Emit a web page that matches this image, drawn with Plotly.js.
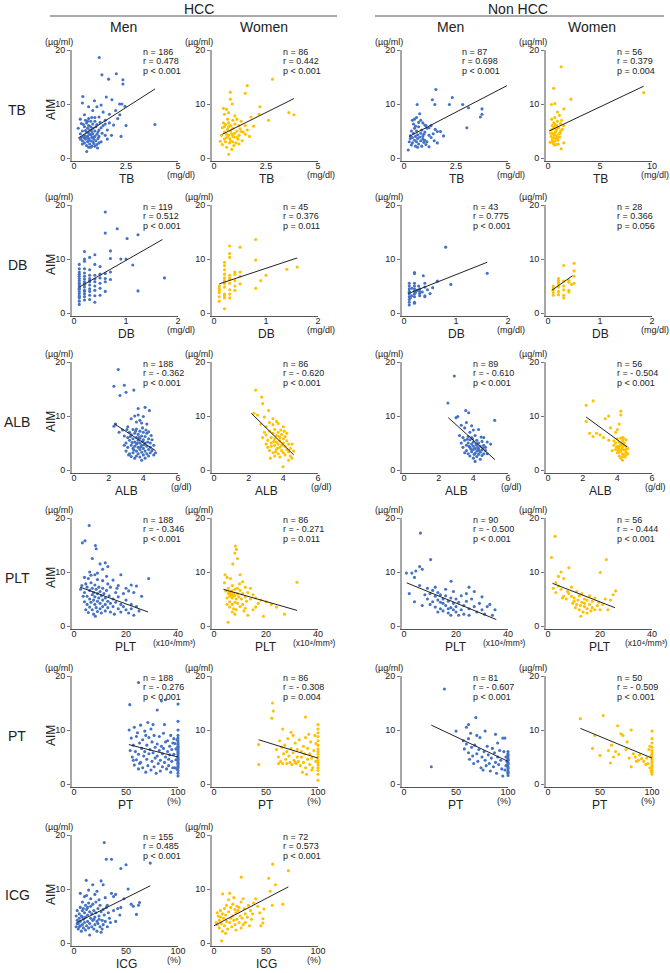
<!DOCTYPE html>
<html><head><meta charset="utf-8">
<script src="https://cdn.plot.ly/plotly-3.0.1.min.js"></script>
<style>html,body{margin:0;padding:0;background:#fff}#chart{width:670px;height:973px}</style>
</head><body><div id="chart"></div>
<script>
// ---------- DATA ----------
const rowNames = ['TB','DB','ALB','PLT','PT','ICG'];
const rowUnits = ['(mg/dl)','(mg/dl)','(g/dl)','(x10\u2074/mm\u00b3)','(%)','(%)'];
const rowTicks = [[0,2.5,5],[0,1,2],[0,2,4,6],[0,20,40],[0,50,100],[0,50,100]];
const tbWideTicks = [0,5,10];
const yTicks = [0,10,20];
const groupHeads = ['HCC','Non HCC'];
const sexHeads = ['Men','Women','Men','Women'];

// TB
const tbHccMen = [[1.21,18.6],[1.34,15.4],[1.66,14.6],[2.03,15.6],[2.35,14.5],[2.35,13.7],[3.89,6.2],[0.42,11.4],[0.98,10.6],[1.55,11.3],[1.82,10.8],[2.19,10.0],[2.3,10.0],[2.45,9.6],[2.0,8.8],[1.3,9.8],[1.1,9.5],[0.7,9.5],[0.4,10.2],[0.9,8.8],[1.4,8.5],[1.7,8.1],[2.2,8.0],[2.5,6.0],[2.26,4.0],[1.13,1.85],[0.61,1.2],[1.9,6.1],[1.5,6.3],[2.1,7.3],[1.6,5.2],[1.2,7.6],[0.3,7.2],[0.5,8.0],[0.2,5.5],[0.3,4.5],[0.35,3.8],[0.4,3.2],[0.4,5.0],[0.45,6.2],[0.5,2.8],[0.5,4.2],[0.5,5.8],[0.55,3.5],[0.55,7.0],[0.6,2.3],[0.6,4.8],[0.6,6.5],[0.65,3.0],[0.65,4.0],[0.65,5.5],[0.7,2.0],[0.7,3.6],[0.7,4.6],[0.7,6.0],[0.7,7.3],[0.75,2.6],[0.75,5.2],[0.8,3.2],[0.8,4.3],[0.8,5.8],[0.8,6.8],[0.85,2.2],[0.85,3.8],[0.85,4.9],[0.9,3.0],[0.9,4.5],[0.9,5.5],[0.9,6.3],[0.95,2.7],[0.95,3.5],[1.0,4.0],[1.0,5.0],[1.0,6.8],[1.05,3.2],[1.05,5.8],[1.1,2.5],[1.1,4.4],[1.1,6.2],[1.15,3.6],[1.2,5.2],[1.2,4.0],[1.25,6.6],[1.3,3.0],[1.3,5.6],[1.35,4.6],[1.4,6.0],[1.5,4.2],[1.5,7.0],[0.45,4.0],[0.6,3.9],[0.75,4.4],[0.55,5.1],[0.65,6.8],[0.85,7.5],[0.4,2.6],[0.3,3.5],[0.5,3.7],[1.0,2.2],[1.2,2.8],[1.6,3.5],[1.8,4.2],[1.7,6.5],[1.0,7.5],[0.8,2.0],[0.35,6.4],[0.7,3.3],[0.9,3.9],[1.15,4.8]];
const tbHccMenFit = [[0.2,3.7],[3.9,12.8]];
const tbHccMenStats = ['n = 186','r = 0.478','p < 0.001'];

const tbHccWomen = [[2.81,14.6],[1.59,13.4],[1.5,12.0],[0.78,12.2],[0.78,10.9],[0.87,10.0],[2.2,9.5],[3.6,8.4],[3.84,8.0],[2.62,7.0],[2.17,8.1],[1.78,7.6],[0.45,9.2],[0.6,9.0],[0.7,8.4],[0.5,8.1],[0.7,0.7],[0.4,5.6],[0.3,3.1],[0.35,4.2],[0.4,2.5],[0.5,3.5],[0.5,4.8],[0.55,6.2],[0.6,2.0],[0.6,3.8],[0.65,5.3],[0.7,4.2],[0.7,6.5],[0.75,2.8],[0.75,3.6],[0.8,5.0],[0.8,6.0],[0.85,1.6],[0.85,4.5],[0.9,3.0],[0.9,5.5],[0.9,7.0],[0.95,3.9],[1.0,4.6],[1.0,6.3],[1.05,2.8],[1.1,5.0],[1.1,7.2],[1.15,3.5],[1.2,6.0],[1.2,4.2],[1.25,5.4],[1.3,6.8],[1.35,3.2],[1.4,4.8],[1.5,6.0],[1.5,4.4],[1.6,5.2],[1.7,4.0],[1.0,7.8],[0.65,7.2],[0.55,3.0],[0.45,6.5],[0.95,2.3],[1.1,3.8],[0.8,3.2],[1.3,4.9],[0.7,5.8],[0.6,4.4],[1.9,5.9],[1.2,2.6],[0.5,5.8],[0.9,4.1]];
const tbHccWomenFit = [[0.4,4.4],[3.84,11.0]];
const tbHccWomenStats = ['n = 86','r = 0.442','p < 0.001'];

const tbNonMen = [[1.53,12.7],[0.63,9.9],[1.36,10.8],[1.48,9.9],[2.18,9.9],[2.32,11.2],[2.82,9.9],[3.1,9.3],[3.02,5.6],[3.67,7.6],[3.75,8.1],[3.75,9.1],[0.8,7.0],[0.6,7.5],[0.5,7.2],[0.75,8.2],[1.0,6.1],[1.3,6.0],[1.5,5.3],[1.6,4.9],[1.75,4.9],[1.9,4.1],[0.2,1.5],[0.3,3.6],[0.25,3.0],[0.35,2.4],[0.3,4.1],[0.4,3.8],[0.4,2.8],[0.45,4.6],[0.5,3.3],[0.5,5.5],[0.55,2.2],[0.55,4.0],[0.6,3.0],[0.6,5.0],[0.65,3.6],[0.65,4.3],[0.7,2.6],[0.7,5.8],[0.75,3.9],[0.8,3.2],[0.8,4.6],[0.85,2.2],[0.85,5.2],[0.9,3.5],[0.9,4.0],[0.95,2.9],[1.0,3.3],[1.0,4.8],[1.05,2.5],[1.1,3.0],[1.1,5.5],[1.2,2.1],[1.2,4.2],[1.3,3.8],[1.4,4.5],[1.45,3.2],[1.6,2.8],[0.45,6.3],[0.7,6.6],[0.9,6.5],[1.05,6.0],[0.35,5.0],[0.55,5.9],[0.4,7.0],[1.2,5.6],[0.65,2.0],[0.95,4.4]];
const tbNonMenFit = [[0.25,4.0],[4.95,13.4]];
const tbNonMenStats = ['n = 87','r = 0.698','p < 0.001'];

const tbNonWomen = [[1.26,16.9],[0.53,12.9],[2.19,10.9],[0.33,9.9],[0.66,10.1],[1.52,9.1],[1.09,7.9],[0.9,8.5],[1.3,7.0],[1.5,6.0],[1.52,2.8],[1.26,1.7],[9.2,12.1],[0.8,2.5],[0.2,2.9],[0.3,4.0],[0.3,5.2],[0.4,3.4],[0.4,6.0],[0.45,4.6],[0.5,2.7],[0.5,5.5],[0.55,3.8],[0.55,6.5],[0.6,4.3],[0.6,5.8],[0.65,3.1],[0.7,4.8],[0.7,6.2],[0.75,3.6],[0.8,5.3],[0.85,4.1],[0.9,6.8],[0.95,3.3],[1.0,5.6],[1.05,4.5],[1.1,3.9],[1.2,6.4],[1.2,5.0],[0.35,7.2],[0.65,7.5],[1.0,2.6],[0.45,3.0],[0.75,5.0],[1.15,4.6],[0.55,4.4],[1.35,5.3],[0.9,3.7],[0.25,4.6],[0.6,2.4],[0.85,6.0]];
const tbNonWomenFit = [[0.1,5.0],[9.2,13.3]];
const tbNonWomenStats = ['n = 56','r = 0.379','p = 0.004'];

// DB
const dbHccMen = [[0.1,1.6],[0.1,2.2],[0.1,2.8],[0.1,3.2],[0.1,3.6],[0.1,4.0],[0.1,4.4],[0.1,4.8],[0.1,5.2],[0.1,5.6],[0.1,6.0],[0.1,6.4],[0.1,6.8],[0.1,7.2],[0.1,7.6],[0.1,8.2],[0.1,9.0],[0.1,3.0],[0.1,4.6],[0.1,5.4],[0.2,2.4],[0.2,3.0],[0.2,3.5],[0.2,4.2],[0.2,4.8],[0.2,5.3],[0.2,5.8],[0.2,6.3],[0.2,6.8],[0.2,7.4],[0.2,8.2],[0.2,9.6],[0.2,10.0],[0.2,11.4],[0.2,4.0],[0.2,5.5],[0.3,2.5],[0.3,3.3],[0.3,4.0],[0.3,4.5],[0.3,5.2],[0.3,5.8],[0.3,6.4],[0.3,7.0],[0.3,8.0],[0.3,10.3],[0.3,6.0],[0.4,2.0],[0.4,3.2],[0.4,4.2],[0.4,5.0],[0.4,5.8],[0.4,6.3],[0.4,7.0],[0.4,9.0],[0.4,10.8],[0.5,3.3],[0.5,4.6],[0.5,5.5],[0.5,6.5],[0.5,7.2],[0.5,8.6],[0.6,4.0],[0.6,5.8],[0.6,6.4],[0.6,7.3],[0.6,14.8],[0.6,18.7],[0.7,7.6],[0.7,10.1],[0.7,11.5],[0.7,6.2],[1.02,13.8],[1.23,14.5],[1.23,4.1],[1.74,6.5],[1.13,8.9],[1.0,10.0],[0.9,10.0],[0.83,15.6]];
const dbHccMenFit = [[0.1,4.8],[1.7,13.6]];
const dbHccMenStats = ['n = 119','r = 0.512','p < 0.001'];

const dbHccWomen = [[0.1,2.2],[0.1,3.8],[0.1,4.2],[0.1,5.0],[0.2,0.8],[0.2,2.8],[0.2,3.5],[0.2,4.8],[0.2,5.4],[0.2,6.0],[0.2,6.5],[0.2,7.2],[0.2,8.0],[0.2,8.8],[0.2,9.4],[0.2,3.2],[0.3,10.3],[0.3,11.0],[0.3,12.4],[0.3,6.5],[0.3,5.5],[0.3,3.5],[0.3,4.3],[0.3,6.2],[0.3,7.0],[0.4,4.2],[0.4,7.2],[0.4,7.6],[0.4,6.0],[0.5,7.6],[0.5,5.4],[0.5,12.2],[0.5,6.8],[0.8,13.6],[0.8,9.8],[0.8,4.6],[0.9,6.0],[1.0,7.0],[1.4,8.1],[1.6,8.5],[0.1,3.0],[0.2,5.8],[0.3,2.8],[0.4,5.0],[0.1,4.6]];
const dbHccWomenFit = [[0.1,5.4],[1.6,10.2]];
const dbHccWomenStats = ['n = 45','r = 0.376','p = 0.011'];

const dbNonMen = [[0.8,12.2],[1.6,7.35],[0.9,5.3],[0.64,5.9],[0.55,4.7],[0.37,6.9],[0.4,5.5],[0.4,3.2],[0.4,3.0],[0.4,4.8],[0.2,7.5],[0.2,7.3],[0.2,5.5],[0.2,4.5],[0.2,4.0],[0.2,3.5],[0.2,2.0],[0.2,1.8],[0.2,5.0],[0.2,3.0],[0.1,5.5],[0.1,5.0],[0.1,4.5],[0.1,4.0],[0.1,3.5],[0.1,3.0],[0.1,2.5],[0.1,1.5],[0.1,3.8],[0.1,2.0],[0.3,4.5],[0.3,4.0],[0.3,3.6],[0.3,3.2],[0.25,4.2],[0.15,3.2],[0.15,4.6],[0.5,3.6],[0.45,4.3],[0.28,5.0],[0.12,2.8],[0.22,3.8],[0.35,3.9]];
const dbNonMenFit = [[0.08,3.6],[1.6,9.4]];
const dbNonMenStats = ['n = 43','r = 0.775','p < 0.001'];

const dbNonWomen = [[0.1,5.0],[0.1,4.7],[0.1,4.3],[0.1,3.8],[0.1,3.3],[0.2,6.4],[0.2,6.0],[0.2,5.3],[0.2,4.8],[0.2,4.0],[0.2,3.4],[0.3,8.8],[0.3,5.9],[0.3,5.0],[0.3,4.3],[0.3,3.3],[0.3,2.8],[0.4,6.0],[0.4,4.2],[0.4,3.9],[0.4,5.7],[0.45,5.3],[0.5,9.2],[0.5,7.8],[0.5,5.5],[0.5,6.8],[0.1,4.5],[0.2,5.7]];
const dbNonWomenFit = [[0.07,4.2],[0.47,6.9]];
const dbNonWomenStats = ['n = 28','r = 0.366','p = 0.056'];

// ALB
const albHccMen = [[2.55,18.6],[2.3,15.5],[2.9,15.7],[3.0,14.4],[2.65,13.8],[3.45,14.8],[4.1,11.6],[4.35,11.0],[3.7,11.4],[2.3,8.1],[2.4,8.5],[3.5,10.0],[3.7,10.2],[3.8,9.2],[3.6,8.9],[4.0,9.9],[3.3,9.5],[3.9,8.7],[4.2,8.5],[3.1,8.0],[2.8,7.4],[2.6,7.0],[2.9,6.3],[3.0,5.0],[3.0,3.5],[3.1,6.0],[3.1,4.2],[3.2,7.0],[3.2,5.5],[3.2,3.0],[3.3,6.5],[3.3,4.6],[3.3,2.5],[3.4,7.5],[3.4,5.8],[3.4,4.0],[3.4,3.2],[3.5,6.8],[3.5,5.2],[3.5,4.4],[3.5,2.2],[3.6,7.6],[3.6,6.0],[3.6,4.8],[3.6,3.5],[3.6,2.6],[3.7,6.6],[3.7,5.5],[3.7,4.2],[3.7,3.0],[3.8,7.2],[3.8,5.9],[3.8,5.0],[3.8,3.8],[3.8,2.4],[3.9,6.3],[3.9,4.6],[3.9,3.3],[3.9,1.8],[4.0,7.0],[4.0,5.6],[4.0,4.0],[4.0,2.8],[4.1,6.2],[4.1,5.0],[4.1,3.5],[4.1,2.2],[4.2,6.8],[4.2,4.4],[4.2,3.0],[4.3,5.8],[4.3,3.8],[4.3,2.6],[4.4,5.0],[4.4,4.2],[4.4,3.2],[4.5,5.6],[4.5,3.6],[4.6,4.6],[4.6,2.8],[4.7,3.2],[3.55,7.2],[3.75,6.0],[3.95,5.3],[3.65,5.0],[3.85,4.3],[3.45,3.7],[4.05,4.7],[3.25,6.2],[3.95,7.8],[4.15,7.4],[2.9,4.6],[4.25,5.2],[3.35,5.1],[3.15,2.8],[4.45,6.4],[3.05,7.5],[4.3,7.1]];
const albHccMenFit = [[2.3,8.6],[4.7,3.6]];
const albHccMenStats = ['n = 188','r = - 0.362','p < 0.001'];

const albHccWomen = [[2.4,14.8],[2.75,13.5],[2.8,12.3],[3.15,11.0],[2.5,10.2],[2.3,10.5],[2.9,9.8],[3.4,9.5],[3.6,9.0],[2.7,8.5],[3.0,8.0],[3.4,8.4],[3.7,8.6],[4.0,8.0],[4.2,6.8],[4.5,4.8],[4.6,3.5],[4.5,2.2],[3.98,0.6],[4.3,1.8],[3.0,6.5],[3.1,5.5],[3.1,4.2],[3.2,7.2],[3.2,3.6],[3.3,6.0],[3.3,5.0],[3.3,4.4],[3.4,6.8],[3.4,3.2],[3.5,7.5],[3.5,5.8],[3.5,4.6],[3.5,2.6],[3.6,6.4],[3.6,5.2],[3.6,3.8],[3.7,7.0],[3.7,4.8],[3.7,3.0],[3.8,6.0],[3.8,5.4],[3.8,4.2],[3.8,2.4],[3.9,6.6],[3.9,4.6],[3.9,3.6],[4.0,5.8],[4.0,5.0],[4.0,3.2],[4.1,6.2],[4.1,4.4],[4.1,2.8],[4.2,5.4],[4.2,3.8],[4.3,4.8],[4.3,3.4],[4.4,4.0],[4.4,2.6],[3.2,8.8],[2.9,7.0],[3.0,4.8],[3.45,5.3],[3.65,4.0],[3.85,7.4],[3.55,3.4],[4.05,7.2],[3.75,6.2],[2.8,6.0],[3.25,2.2]];
const albHccWomenFit = [[2.15,10.5],[4.6,2.8]];
const albHccWomenStats = ['n = 86','r = - 0.620','p < 0.001'];

const albNonMen = [[2.9,17.4],[2.53,12.4],[3.56,11.0],[3.73,10.6],[3.0,9.7],[3.1,9.9],[5.23,9.2],[3.6,8.8],[3.9,8.2],[3.3,8.3],[3.5,7.8],[4.0,7.4],[4.3,7.5],[3.8,7.0],[3.2,6.4],[3.4,6.0],[4.6,6.0],[4.8,5.2],[5.0,4.8],[4.7,4.2],[3.5,5.5],[3.6,4.6],[3.6,3.6],[3.7,6.2],[3.7,5.0],[3.7,3.0],[3.8,5.6],[3.8,4.2],[3.8,2.6],[3.9,6.0],[3.9,4.8],[3.9,3.4],[4.0,5.2],[4.0,4.4],[4.0,3.8],[4.0,2.2],[4.1,6.4],[4.1,4.0],[4.1,3.1],[4.1,1.6],[4.2,5.5],[4.2,4.6],[4.2,3.5],[4.2,2.5],[4.3,5.0],[4.3,3.9],[4.3,2.9],[4.4,4.4],[4.4,3.3],[4.4,2.0],[4.5,5.3],[4.5,3.7],[4.5,2.7],[4.6,4.6],[4.6,3.0],[4.7,3.6],[3.4,4.2],[3.5,3.2],[3.95,5.8],[4.05,2.9],[4.15,4.8],[4.25,4.1],[4.35,3.6],[3.85,3.9],[3.75,4.4],[4.45,6.1],[3.65,5.7],[3.3,5.0],[4.55,4.1],[4.8,3.0]];
const albNonMenFit = [[2.55,9.7],[5.25,1.9]];
const albNonMenStats = ['n = 89','r = - 0.610','p < 0.001'];

const albNonWomen = [[2.6,12.8],[2.2,12.0],[2.2,9.0],[2.4,6.8],[2.6,6.2],[3.5,10.0],[4.2,10.9],[4.2,10.2],[3.3,9.5],[4.1,8.5],[4.0,7.5],[3.2,6.0],[3.0,6.5],[2.8,6.8],[3.5,5.5],[3.8,4.6],[4.3,1.8],[3.6,7.8],[3.9,7.0],[4.3,6.0],[3.8,5.4],[3.9,3.8],[3.9,5.0],[4.0,4.4],[4.0,3.2],[4.0,5.8],[4.1,4.0],[4.1,2.6],[4.1,5.2],[4.2,4.8],[4.2,3.5],[4.2,2.2],[4.3,5.4],[4.3,4.2],[4.3,3.0],[4.35,4.7],[4.4,5.0],[4.4,3.7],[4.4,2.8],[4.5,4.4],[4.5,3.3],[4.5,5.6],[4.6,4.0],[4.6,3.0],[4.25,3.8],[4.15,4.5],[4.05,3.6],[3.95,4.2],[4.45,2.4],[4.35,5.9],[4.55,2.9],[4.1,3.3],[4.3,2.5],[4.2,5.9],[3.7,3.6],[4.5,3.8]];
const albNonWomenFit = [[2.2,9.8],[4.55,4.3]];
const albNonWomenStats = ['n = 56','r = - 0.504','p < 0.001'];

// PLT
const pltHccMen = [[5.8,18.6],[3.2,15.4],[4.2,15.8],[8.2,14.9],[8.5,14.3],[12,11.7],[13,11.0],[28.7,8.8],[22,7.6],[24,7.4],[21,6.5],[26,5.5],[18,9.5],[17,7.5],[15,8.5],[10,11.5],[11,10.5],[9,9.8],[6,10],[4,9.0],[3,7.5],[2.5,6.8],[7,12.5],[4,6.2],[4,4.5],[4.5,3.0],[5,7.2],[5,5.5],[5,4.0],[5.5,2.5],[6,6.6],[6,5.0],[6,3.5],[6.5,8.0],[6.5,4.4],[7,7.0],[7,5.8],[7,3.0],[7.5,6.2],[7.5,4.8],[7.5,2.2],[8,7.6],[8,5.4],[8,4.0],[8.5,6.8],[8.5,3.4],[9,6.0],[9,4.6],[9,2.7],[9.5,7.2],[9.5,5.2],[10,6.4],[10,4.2],[10,3.2],[10.5,5.6],[10.5,2.4],[11,7.0],[11,4.8],[11,3.6],[11.5,6.0],[12,5.2],[12,4.0],[12,2.8],[12.5,6.6],[13,4.6],[13,3.4],[13.5,5.6],[14,7.2],[14,4.2],[14,2.6],[15,5.0],[15,3.6],[16,6.2],[16,4.4],[17,3.2],[17,5.4],[18,4.0],[18,2.6],[19,6.0],[19,3.6],[20,4.8],[20,3.0],[21,2.4],[22,4.0],[22,3.2],[23,2.0],[24,3.6],[25,2.8],[23,6.2],[20,7.0],[13,7.8],[9,8.6],[8,9.5],[11,8.4],[5.5,8.8],[6.5,9.4],[3.5,5.5],[4.5,7.8],[8.2,1.8],[15.5,2.2],[12.5,9.2],[16.5,7.0]];
const pltHccMenFit = [[2.3,7.2],[28.5,2.6]];
const pltHccMenStats = ['n = 188','r = - 0.346','p < 0.001'];

const pltHccWomen = [[8.2,14.8],[8.6,14.2],[8.0,13.5],[7.2,11.5],[9,12.5],[4.2,9.5],[5,9.0],[6.3,8.8],[31.9,8.1],[5.4,0.7],[27.1,2.2],[4,8.0],[10,9.5],[11,8.2],[12,7.2],[14,7.0],[16,5.2],[17,4.2],[20,4.5],[22,4.0],[24,3.5],[13,2.0],[19,1.8],[15,3.0],[4.5,6.5],[5,5.2],[5,4.0],[5.5,7.0],[5.5,6.0],[6,5.5],[6,4.5],[6,3.5],[6.5,6.2],[6.5,5.8],[7,7.5],[7,5.2],[7,4.0],[7,2.6],[7.5,6.0],[7.5,3.2],[8,6.8],[8,5.6],[8,4.4],[8.5,5.0],[8.5,3.0],[9,7.0],[9,6.0],[9,4.2],[9.5,5.4],[10,6.6],[10,3.6],[10.5,5.0],[11,6.0],[11,4.0],[11.5,2.8],[12,5.4],[12.5,4.6],[13,6.2],[14,5.0],[15,5.8],[6.2,5.9],[5.8,6.3],[6.8,6.5],[7.2,5.6],[9.8,7.8],[12,3.3],[8,2.2],[16,3.5],[18,4.8]];
const pltHccWomenFit = [[3.6,6.8],[31.9,2.9]];
const pltHccWomenStats = ['n = 86','r = - 0.271','p = 0.011'];

const pltNonMen = [[6.3,17.2],[10.2,12.3],[6,11],[7,10.5],[0.9,9.8],[3,9.8],[4.5,10.2],[4.0,9.0],[18.1,8.3],[25,7.2],[6,7.5],[9,7.0],[12,7.2],[2,6.0],[4,4.5],[7,3.8],[10,6.0],[11,4.5],[12,5.5],[12,3.5],[13,6.2],[13,4.8],[14,5.8],[14,3.2],[15,5.0],[15,4.2],[15,2.8],[16,5.6],[16,3.8],[17,4.6],[17,2.4],[18,5.2],[18,3.4],[18,2.0],[19,4.2],[19,6.4],[20,3.6],[20,5.0],[20,2.6],[21,4.4],[22,3.0],[22,5.6],[23,3.8],[23,2.2],[24,4.6],[25,3.2],[25,2.0],[26,5.0],[27,3.6],[28,2.6],[29,4.2],[30,3.0],[30,5.4],[31,2.2],[32,3.6],[33,4.0],[34,2.0],[35,3.0],[9,5.0],[11,6.6],[13,2.6],[16,6.8],[14,4.4],[17,3.2],[19,3.0],[21,2.0],[24,6.0],[27,6.4],[10,4.0],[8,5.8]];
const pltNonMenFit = [[1,8.0],[35.5,1.2]];
const pltNonMenStats = ['n = 90','r = - 0.500','p < 0.001'];

const pltNonWomen = [[2.7,16.6],[1.3,12.7],[22.4,12.3],[20.1,9.9],[8,10.8],[5,10],[4,9.2],[6,8.8],[2,7.0],[3,6.2],[9,5.5],[26,6.5],[12.6,1.8],[25,5.8],[24,4.8],[22,5.0],[23,3.0],[20,3.0],[21,4.0],[3,8],[4,7.4],[5,6.8],[6,5.5],[7,5.0],[8,6.0],[9,7.2],[10,5.2],[10,4.6],[11,6.4],[11,4.0],[12,5.6],[12,3.0],[13,4.4],[13,6.0],[14,3.6],[14,5.0],[14,4.2],[15,4.8],[15,3.2],[15,2.4],[16,4.0],[16,5.6],[17,3.4],[17,4.6],[18,3.0],[18,5.2],[19,3.8],[13.5,2.6],[12.5,3.8],[11.5,4.8],[10.5,3.4],[16.5,2.8],[9.5,4.2],[7.5,6.4],[5.5,5.2],[19.5,4.4]];
const pltNonWomenFit = [[1.7,7.9],[25.7,3.4]];
const pltNonWomenStats = ['n = 56','r = - 0.444','p < 0.001'];

// PT
const ptHccMen = [[62,18.8],[53.6,14.7],[84,15.4],[88,15.6],[80,13.7],[100,14.8],[100,11.6],[100,1.5],[100,2.0],[100,2.5],[100,3.0],[100,3.3],[100,3.6],[100,4.0],[100,4.3],[100,4.6],[100,5.0],[100,5.3],[100,5.6],[100,6.0],[100,6.3],[100,6.6],[100,7.0],[100,7.3],[100,7.6],[100,8.0],[100,8.5],[100,9.0],[100,10.0],[100,3.8],[100,4.8],[100,5.8],[100,6.8],[98,4.5],[98,6.5],[97,3.0],[97,7.5],[96,5.5],[99,2.8],[99,8.2],[53,10.0],[54,6.2],[55,8.5],[56,5.0],[57,7.2],[58,10.5],[58,3.5],[59,6.0],[60,8.8],[60,4.5],[61,9.5],[62,5.5],[62,2.8],[63,7.6],[64,10.9],[64,4.0],[65,6.6],[66,8.2],[66,3.0],[67,5.2],[68,9.8],[68,6.0],[69,2.2],[70,7.2],[70,4.6],[71,11.4],[71,3.4],[72,8.6],[72,5.6],[73,6.4],[74,2.6],[74,10.2],[75,4.2],[75,7.8],[76,5.8],[77,3.2],[77,9.0],[78,6.8],[78,4.8],[79,2.0],[80,7.4],[80,5.2],[81,3.8],[82,8.8],[82,6.2],[83,4.4],[83,2.4],[84,7.0],[85,5.6],[85,3.2],[86,9.4],[86,6.6],[87,4.0],[88,7.8],[88,5.0],[89,2.8],[90,6.0],[90,8.0],[91,4.6],[91,3.4],[92,7.0],[92,5.4],[93,2.2],[93,9.0],[94,6.4],[94,4.2],[95,3.0],[95,7.6],[96,8.4],[69,9.0],[76,11.0],[63,3.8],[57,4.4],[87,11.0]];
const ptHccMenFit = [[52.7,7.3],[100,5.0]];
const ptHccMenStats = ['n = 188','r = - 0.276','p < 0.001'];

const ptHccWomen = [[56.2,15.0],[57,13.5],[55.5,12.2],[42.9,7.3],[43,3.6],[88,12.4],[100,11.0],[100,10.2],[100,9.5],[100,8.8],[100,8.0],[100,7.2],[100,6.5],[100,6.0],[100,5.5],[100,5.0],[100,4.5],[100,4.0],[100,3.5],[100,3.0],[100,2.5],[100,1.8],[100,0.7],[98,7.5],[98,4.2],[97,9.0],[96,6.2],[95,3.0],[60,6.4],[62,5.0],[63,8.0],[64,4.2],[65,6.8],[66,3.8],[67,5.6],[68,7.2],[69,4.6],[70,3.8],[70,6.0],[71,8.4],[72,5.2],[73,4.0],[74,9.6],[74,6.6],[75,3.6],[76,5.8],[77,4.4],[78,7.6],[79,3.8],[80,5.0],[80,6.4],[81,4.2],[82,8.2],[83,3.4],[84,6.0],[84,5.0],[85,2.2],[86,7.0],[86,4.0],[87,5.6],[88,3.0],[88,8.6],[89,1.8],[90,6.6],[90,4.6],[91,9.2],[92,3.6],[92,5.6],[93,7.8],[94,2.6],[94,4.8],[62,3.8],[78,4.0],[76,9.0],[66,10.2]];
const ptHccWomenFit = [[42.9,8.2],[100,4.8]];
const ptHccWomenStats = ['n = 86','r = - 0.308','p = 0.004'];

const ptNonMen = [[38.8,17.6],[26.2,3.2],[69,12.3],[62,11],[60,10.5],[50,9.8],[78,9.8],[88,9.2],[95,8.5],[97,8.5],[100,1.6],[100,2.0],[100,2.4],[100,2.8],[100,3.2],[100,3.6],[100,4.0],[100,4.4],[100,4.8],[100,5.2],[100,5.6],[100,6.0],[100,2.2],[100,3.0],[100,3.8],[100,4.6],[100,5.4],[98,3.4],[98,5.0],[97,2.6],[96,6.0],[95,1.5],[99,4.2],[57,8.0],[58,6.5],[60,7.4],[62,5.8],[63,4.6],[64,9.4],[65,6.8],[66,5.2],[67,3.8],[68,7.2],[70,5.6],[71,4.2],[72,6.4],[73,8.6],[74,3.0],[75,5.0],[76,2.6],[77,6.0],[78,4.4],[79,3.4],[80,7.0],[81,5.4],[82,3.8],[83,2.4],[84,4.8],[85,6.6],[86,3.2],[87,5.8],[88,4.0],[89,2.0],[90,5.0],[90,7.6],[91,3.6],[92,6.2],[93,4.4],[94,2.8],[62,8.4],[70,9.0]];
const ptNonMenFit = [[26.2,10.9],[100,4.2]];
const ptNonMenStats = ['n = 81','r = - 0.607','p < 0.001'];

const ptNonWomen = [[31,12.1],[53,12.7],[42.7,6.6],[45,9],[50,5.3],[60,3.9],[61,7.2],[65,6],[67,10.8],[70,9.3],[80,10],[80,3.2],[85,4.2],[90,4.7],[72,9.0],[68,5.5],[75,6.4],[78,4.8],[82,5.6],[84,5.0],[87,4.4],[92,4.2],[95,4.8],[96,3.8],[88,5.4],[76,7.8],[58,6.2],[63,5.0],[100,9.8],[100,8.4],[100,7.6],[100,6.8],[100,6.2],[100,5.8],[100,5.4],[100,5.0],[100,4.6],[100,4.2],[100,3.8],[100,3.4],[100,3.0],[100,2.6],[100,2.2],[100,1.8],[99,5.2],[98,3.0],[97,6.4],[98,7.0],[99,2.4],[94,3.6]];
const ptNonWomenFit = [[31.1,10.3],[100,4.8]];
const ptNonWomenStats = ['n = 50','r = - 0.509','p < 0.001'];

// ICG
const icgHccMen = [[29,18.6],[31,15.5],[36,15.5],[45,13.8],[50,14.5],[73.3,14.8],[11.7,11.6],[26,11.5],[6,9.2],[52,10],[63,7.5],[60,5.3],[26,2],[15,1.5],[28,10.8],[36,9.2],[38,8.6],[40,9.0],[48,8.2],[55,7.2],[57,6.8],[62,7.0],[42,6.4],[45,6.6],[38,6.0],[34,4.6],[40,4.0],[44,5.2],[35,3.8],[30,8.4],[32,7.0],[22,9.6],[18,10.8],[14,9.8],[10,8.6],[8,7.6],[2,3.0],[2,5.0],[3,4.2],[3,6.0],[4,2.6],[4,3.6],[5,5.4],[5,4.6],[5,3.0],[6,6.6],[6,4.0],[7,2.2],[7,5.0],[8,3.4],[8,6.0],[9,4.4],[9,2.8],[10,5.6],[10,3.8],[11,7.0],[11,4.8],[11,2.4],[12,6.2],[12,3.2],[13,5.2],[13,4.0],[14,7.4],[14,2.8],[15,5.8],[15,3.6],[16,4.6],[16,6.8],[17,3.0],[17,5.4],[18,4.2],[18,7.2],[19,2.6],[19,6.0],[20,4.8],[20,3.4],[21,5.6],[21,7.6],[22,4.0],[22,2.2],[23,6.4],[23,3.6],[24,5.0],[24,4.4],[25,7.0],[25,3.0],[26,5.8],[27,4.2],[28,6.2],[28,3.4],[29,5.2],[30,4.0],[31,6.6],[32,3.0],[33,5.6],[20,9.0],[16,8.2],[12,8.8],[24,8.0],[8,4.8],[6,3.2],[13,6.6],[19,4.4],[27,2.6],[3,3.6],[9,6.4]];
const icgHccMenFit = [[2.7,3.8],[73.3,10.6]];
const icgHccMenStats = ['n = 155','r = 0.485','p < 0.001'];

const icgHccWomen = [[56.4,14.6],[71.5,13.4],[52.5,12.0],[26.2,12.2],[59,10.8],[54,9.6],[66.2,7.2],[56,7.0],[48,6.3],[47,4.5],[47,3.7],[8.2,9.1],[15,9.2],[7.2,0.4],[40,8.2],[38,7.4],[42,6.8],[35,6.0],[36,4.4],[30,5.4],[33,7.0],[28,8.2],[26,7.6],[22,6.8],[20,6.2],[18,5.0],[2,3.8],[3,3.4],[4,5.0],[5,4.2],[5,2.8],[6,6.0],[7,3.6],[8,5.4],[8,2.2],[9,4.6],[10,6.4],[10,3.2],[11,5.2],[12,4.0],[12,7.0],[13,2.6],[14,5.8],[15,3.8],[16,6.6],[16,4.6],[17,3.0],[18,7.2],[19,4.2],[20,3.4],[21,5.6],[22,4.4],[23,6.0],[24,3.8],[25,5.0],[26,2.8],[27,4.6],[28,3.4],[30,3.8],[32,4.8],[34,3.2],[24,6.6],[14,8.0],[29,6.4],[11,1.8],[19,8.4],[6,4.8],[3,5.6],[37,5.4],[44,5.6],[45,3.2],[21,2.4]];
const icgHccWomenFit = [[0,3.2],[71.5,10.4]];
const icgHccWomenStats = ['n = 72','r = 0.573','p < 0.001'];

// ---------- CHART ----------
const BLUE = '#4472C4', GOLD = '#FFC000';
const FONT = 'Liberation Sans, Arial, Helvetica, sans-serif';
const W = 670, H = 973;
const colX = [72, 212, 402, 546], PW = 106;
const rowTop = [50, 205, 362, 518, 676, 835], PH = 111;
const px = x => x / W, py = y => 1 - y / H;

const panels = [
  [0,0,tbHccMen,tbHccMenFit,tbHccMenStats],[0,1,tbHccWomen,tbHccWomenFit,tbHccWomenStats],
  [0,2,tbNonMen,tbNonMenFit,tbNonMenStats],[0,3,tbNonWomen,tbNonWomenFit,tbNonWomenStats],
  [1,0,dbHccMen,dbHccMenFit,dbHccMenStats],[1,1,dbHccWomen,dbHccWomenFit,dbHccWomenStats],
  [1,2,dbNonMen,dbNonMenFit,dbNonMenStats],[1,3,dbNonWomen,dbNonWomenFit,dbNonWomenStats],
  [2,0,albHccMen,albHccMenFit,albHccMenStats],[2,1,albHccWomen,albHccWomenFit,albHccWomenStats],
  [2,2,albNonMen,albNonMenFit,albNonMenStats],[2,3,albNonWomen,albNonWomenFit,albNonWomenStats],
  [3,0,pltHccMen,pltHccMenFit,pltHccMenStats],[3,1,pltHccWomen,pltHccWomenFit,pltHccWomenStats],
  [3,2,pltNonMen,pltNonMenFit,pltNonMenStats],[3,3,pltNonWomen,pltNonWomenFit,pltNonWomenStats],
  [4,0,ptHccMen,ptHccMenFit,ptHccMenStats],[4,1,ptHccWomen,ptHccWomenFit,ptHccWomenStats],
  [4,2,ptNonMen,ptNonMenFit,ptNonMenStats],[4,3,ptNonWomen,ptNonWomenFit,ptNonWomenStats],
  [5,0,icgHccMen,icgHccMenFit,icgHccMenStats],[5,1,icgHccWomen,icgHccWomenFit,icgHccWomenStats]
];

const data = [];
const annotations = [];
const shapes = [];
const layout = {
  width: W, height: H, margin: {l:0, r:0, t:0, b:0},
  paper_bgcolor: '#fff', plot_bgcolor: 'rgba(0,0,0,0)',
  showlegend: false, font: {family: FONT, color: '#222'},
  annotations: annotations, shapes: shapes
};
function ann(text, x, y, size, opts) {
  annotations.push(Object.assign({text: text, x: px(x), y: py(y), xref: 'paper', yref: 'paper',
    showarrow: false, xanchor: 'center', yanchor: 'middle', borderpad: 0,
    font: {family: FONT, size: size, color: '#222'}}, opts || {}));
}

panels.forEach((p, i) => {
  const [r, c, pts, fit, stats] = p;
  const k = i + 1, sfx = k === 1 ? '' : String(k);
  const x0 = colX[c], top = rowTop[r];
  const ticks = (r === 0 && c === 3) ? tbWideTicks : rowTicks[r];
  const xmax = ticks[ticks.length - 1];
  const color = (c % 2 === 0) ? BLUE : GOLD;
  layout['xaxis' + sfx] = {
    domain: [px(x0), px(x0 + PW)], range: [-0.02 * xmax, xmax], anchor: 'y' + sfx,
    showline: true, linecolor: '#555', linewidth: 1, mirror: false,
    showgrid: false, zeroline: false, ticks: '', ticklabelstandoff: -4,
    tickvals: ticks, ticktext: ticks.map(String), tickfont: {family: FONT, size: 9, color: '#222'},
    fixedrange: true
  };
  layout['yaxis' + sfx] = {
    domain: [py(top + PH), py(top)], range: [-0.55, 20], anchor: 'x' + sfx,
    showline: true, linecolor: '#a6a6a6', linewidth: 2,
    showgrid: false, zeroline: false, ticks: 'outside', ticklen: 3, tickwidth: 1, tickcolor: '#777',
    tickvals: yTicks, ticktext: yTicks.map(String), tickfont: {family: FONT, size: 9, color: '#222'},
    fixedrange: true
  };
  data.push({type: 'scatter', mode: 'markers', x: pts.map(d => d[0]), y: pts.map(d => d[1]),
    xaxis: 'x' + sfx, yaxis: 'y' + sfx, hoverinfo: 'skip', cliponaxis: false,
    marker: {color: color, size: 3.1, symbol: 'circle', line: {width: 0}}});
  data.push({type: 'scatter', mode: 'lines', x: fit.map(d => d[0]), y: fit.map(d => d[1]),
    xaxis: 'x' + sfx, yaxis: 'y' + sfx, hoverinfo: 'skip',
    line: {color: '#222', width: 1}});

  // stats
  const sx = x0 + ((r === 0 && c === 2) ? 59 : 70);
  stats.forEach((s, j) => ann(s.replace('<', '&lt;'), sx, top + 1.5 + j * 9.8, 9, {xanchor: 'left'}));
  // units
  ann('(\u00b5g/ml)', x0 + 2, top - 8, 9, {xanchor: 'right'});
  const u = rowUnits[r];
  if (r === 3) {
    ann(u, Math.min(x0 + PW + 19, 669), top + PH + 14, 8.5, {xanchor: 'right'});
  } else {
    ann(u, x0 + PW + (u === '(%)' ? -4 : 3), top + PH + 14, 9);
  }
  // x title
  ann(rowNames[r], x0 + 54, top + PH + 18, 12);
  if (c === 0) {
    ann('AIM', 51, top + 60, 12, {textangle: -90});
    ann(rowNames[r], 17, top + 60, 14);
  }
});

// headers
ann(groupHeads[0], 199, 9, 14);
ann(groupHeads[1], 518, 9, 14);
shapes.push({type: 'line', xref: 'paper', yref: 'paper', x0: px(50), x1: px(337), y0: py(16), y1: py(16), line: {color: '#555', width: 1}});
shapes.push({type: 'line', xref: 'paper', yref: 'paper', x0: px(375), x1: px(664), y0: py(16), y1: py(16), line: {color: '#555', width: 1}});
const sexX = [123, 264, 450, 592];
sexHeads.forEach((s, i) => ann(s, sexX[i], 27, 14));

Plotly.newPlot('chart', data, layout, {staticPlot: true, displayModeBar: false});
</script>
</body></html>
